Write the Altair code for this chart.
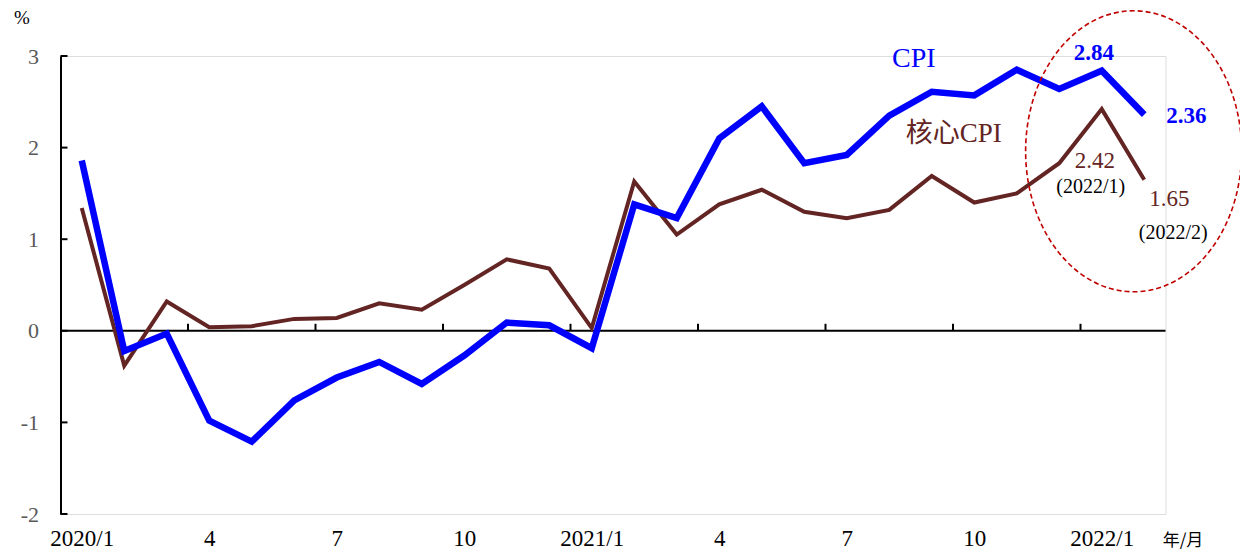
import altair as alt
import pandas as pd

# ---------------- data ----------------
months = [
    "2020/1", "2020/2", "2020/3", "2020/4", "2020/5", "2020/6", "2020/7", "2020/8",
    "2020/9", "2020/10", "2020/11", "2020/12", "2021/1", "2021/2", "2021/3", "2021/4",
    "2021/5", "2021/6", "2021/7", "2021/8", "2021/9", "2021/10", "2021/11", "2021/12",
    "2022/1", "2022/2",
]
cpi = [1.86, -0.22, -0.03, -0.98, -1.21, -0.76, -0.51, -0.34, -0.58, -0.27, 0.09, 0.06,
       -0.19, 1.38, 1.23, 2.10, 2.45, 1.83, 1.92, 2.35, 2.61, 2.57, 2.85, 2.64, 2.84, 2.36]
core_cpi = [1.34, -0.38, 0.32, 0.04, 0.05, 0.13, 0.14, 0.30, 0.23, 0.50, 0.78, 0.68,
            0.03, 1.63, 1.05, 1.38, 1.54, 1.30, 1.23, 1.32, 1.69, 1.40, 1.50, 1.83, 2.42, 1.65]

x_tick_index = [0, 3, 6, 9, 12, 15, 18, 21, 24]
x_tick_labels = ["2020/1", "4", "7", "10", "2021/1", "4", "7", "10", "2022/1"]
x_tick_marks = [2.5, 5.5, 8.5, 11.5, 14.5, 17.5, 20.5, 23.5]
y_ticks = [-2, -1, 0, 1, 2, 3]

BLUE = "#0000FF"
BROWN = "#632523"
RED = "#C00000"
SERIF = "Liberation Serif, Times New Roman, Noto Sans CJK TC, serif"

W, H = 1105, 458
ZERO_PX = H * 3 / 5

idx = list(range(len(months)))
df = pd.DataFrame({"i": idx, "month": months, "cpi": cpi, "core": core_cpi})

xscale = alt.Scale(domain=[-0.5, 25.5], nice=False, zero=False)
yscale = alt.Scale(domain=[-2, 3], nice=False, zero=False)

label_expr = " : ".join(
    f"datum.value == {v} ? '{t}'" for v, t in zip(x_tick_index, x_tick_labels)
) + " : ''"

base = alt.Chart(df)

axes = base.mark_point(opacity=0).encode(
    x=alt.X("i:Q", scale=xscale,
            axis=alt.Axis(values=x_tick_index, labelExpr=label_expr, domain=False,
                          ticks=False, grid=False, title=None, labelFont=SERIF,
                          labelFontSize=23, labelColor="#000000", labelPadding=13,
                          labelAngle=0, labelOverlap=False)),
    y=alt.Y("cpi:Q", scale=yscale,
            axis=alt.Axis(values=y_ticks, labelExpr="'' + datum.value", domain=True,
                          domainColor="#000000", domainWidth=2, ticks=False, grid=False,
                          title=None, labelFont=SERIF, labelFontSize=22,
                          labelColor="#595959", labelPadding=22)),
)

zero_df = pd.DataFrame({"z": [0]})
zero_line = alt.Chart(zero_df).mark_rule(color="#000000", strokeWidth=2).encode(
    y=alt.Y("z:Q", scale=yscale), x=alt.value(0), x2=alt.value(W)
)

xt_df = pd.DataFrame({"b": x_tick_marks})
x_ticks = alt.Chart(xt_df).mark_rule(color="#000000", strokeWidth=2).encode(
    x=alt.X("b:Q", scale=xscale), y=alt.value(ZERO_PX), y2=alt.value(ZERO_PX - 7)
)

yt_df = pd.DataFrame({"v": y_ticks})
y_tick_rules = alt.Chart(yt_df).mark_rule(color="#000000", strokeWidth=2).encode(
    y=alt.Y("v:Q", scale=yscale), x=alt.value(0), x2=alt.value(7)
)

core_line = base.mark_line(color=BROWN, strokeWidth=4, strokeJoin="miter").encode(
    x=alt.X("i:Q", scale=xscale), y=alt.Y("core:Q", scale=yscale)
)
cpi_line = base.mark_line(color=BLUE, strokeWidth=6.5, strokeJoin="miter").encode(
    x=alt.X("i:Q", scale=xscale), y=alt.Y("cpi:Q", scale=yscale)
)


def txt(text, x, y, color, size, weight="normal", dx=0, dy=0, font=SERIF):
    return alt.Chart(pd.DataFrame({"t": [text]})).mark_text(
        font=font, fontSize=size, fontWeight=weight, color=color,
        align="center", baseline="middle", dx=dx, dy=dy,
    ).encode(x=alt.datum(x), y=alt.datum(y), text="t:N")


last = len(months) - 1
prev = last - 1
ann = [
    txt("CPI", 19.58, 2.97, BLUE, 28),
    txt("核心CPI", 20.52, 2.15, BROWN, 27),
    txt(f"{cpi[prev]:.2f}", prev, cpi[prev], BLUE, 23, "bold", dx=-8, dy=-18),
    txt(f"{cpi[last]:.2f}", last, cpi[last], BLUE, 23, "bold", dx=42, dy=1),
    txt(f"{core_cpi[prev]:.2f}", prev, core_cpi[prev], BROWN, 23, dx=-7, dy=52),
    txt(f"({months[prev]})", prev, core_cpi[prev], "#000000", 20, dx=-11, dy=78),
    txt(f"{core_cpi[last]:.2f}", last, core_cpi[last], BROWN, 23, dx=25, dy=19),
    txt(f"({months[last]})", last, core_cpi[last], "#000000", 20, dx=29, dy=53),
]

pct = alt.Chart(pd.DataFrame({"t": ["%"]})).mark_text(
    font=SERIF, fontSize=19, color="#000000", align="center", baseline="middle"
).encode(x=alt.value(-38.5), y=alt.value(-38), text="t:N")

ym = alt.Chart(pd.DataFrame({"t": ["年/月"]})).mark_text(
    font="Noto Sans CJK TC", fontSize=17, color="#000000", align="center", baseline="middle"
).encode(x=alt.value(1183 - 60.5), y=alt.value(541 - 56), text="t:N")

# dashed ellipse (custom symbol), scaled via size
rx, ry = 108, 140.5
k = 0.5523
a = rx / ry
ell_path = (
    f"M {-a} 0 C {-a} {-k} {-k*a} -1 0 -1 C {k*a} -1 {a} {-k} {a} 0 "
    f"C {a} {k} {k*a} 1 0 1 C {-k*a} 1 {-a} {k} {-a} 0 Z"
)
ellipse = alt.Chart(pd.DataFrame({"cx": [24.75], "cy": [1.96]})).mark_point(
    shape=ell_path, size=(2 * ry) ** 2, filled=False, fill="transparent",
    stroke=RED, strokeWidth=1.6, strokeDash=[5, 3], opacity=1,
).encode(x=alt.X("cx:Q", scale=xscale), y=alt.Y("cy:Q", scale=yscale))

chart = alt.layer(
    axes, zero_line, x_ticks, y_tick_rules, core_line, cpi_line, ellipse, *ann, pct, ym
).properties(
    width=W, height=H,
    autosize=alt.AutoSizeParams(type="none"),
    padding={"left": 52.5, "top": 48, "right": 74, "bottom": 38},
).configure_view(stroke=None).configure(background="#ffffff")

chart.save("out.html", embed_options={"renderer": "svg", "actions": False})
